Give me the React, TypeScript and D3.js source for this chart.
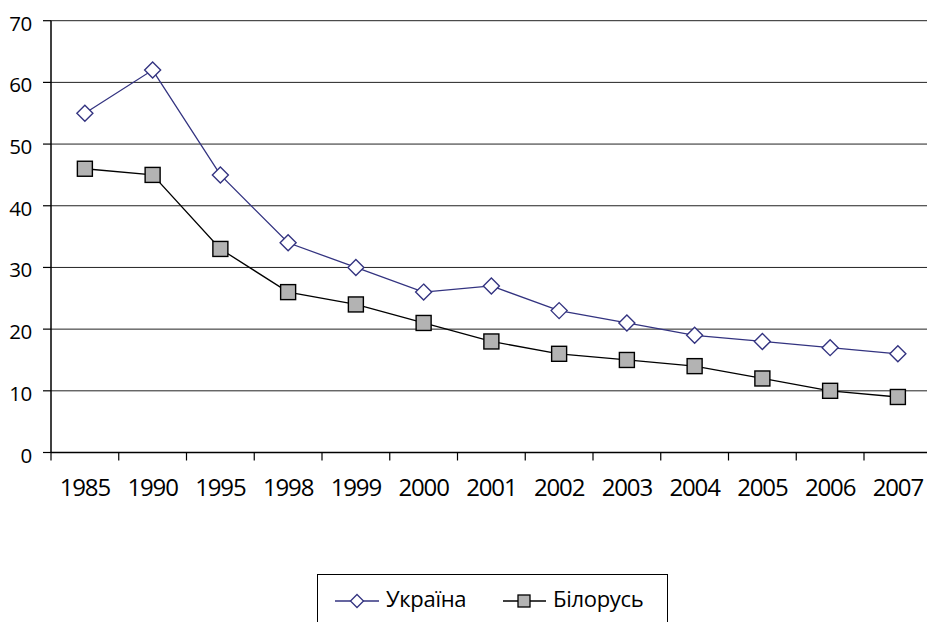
import * as d3 from "d3";

const years = ["1985", "1990", "1995", "1998", "1999", "2000", "2001", "2002", "2003", "2004", "2005", "2006", "2007"];
const ukraine = [55, 62, 45, 34, 30, 26, 27, 23, 21, 19, 18, 17, 16];
const belarus = [46, 45, 33, 26, 24, 21, 18, 16, 15, 14, 12, 10, 9];
const yTicks = [0, 10, 20, 30, 40, 50, 60, 70];
const seriesNames = ["Україна", "Білорусь"];

const W = 927;
const H = 622;
const FONT = "'Open Sans', sans-serif";

export default function App() {
  const x = d3.scaleBand<string>().domain(years).range([51, 51 + 13 * 67.75]);
  const y = d3.scaleLinear().domain([0, 70]).range([452.5, 20.7]);
  const cx = (d: string) => (x(d) ?? 0) + x.bandwidth() / 2;

  const line = d3.line<number>()
    .x((_, i) => cx(years[i]))
    .y((v) => y(v));

  const diamond = (px: number, py: number, r = 8) =>
    `M${px},${py - r}L${px + r},${py}L${px},${py + r}L${px - r},${py}Z`;

  return (
    <svg width={W} height={H} style={{ position: "absolute", left: 0, top: 0, background: "#fff" }}>
      {/* grid */}
      {yTicks.filter((t) => t > 0).map((t) => (
        <line key={t} x1={51} x2={W} y1={y(t)} y2={y(t)} stroke="#222" strokeWidth={1} />
      ))}
      {/* y axis */}
      <line x1={51} x2={51} y1={y(70)} y2={y(0)} stroke="#000" strokeWidth={1.5} />
      {yTicks.map((t) => (
        <g key={t}>
          <line x1={43} x2={51} y1={y(t)} y2={y(t)} stroke="#000" strokeWidth={1.2} />
          <text x={32} y={y(t) + 10} textAnchor="end" fontFamily={FONT} fontSize={20.5} letterSpacing={-0.3} fill="#000">
            {t}
          </text>
        </g>
      ))}
      {/* x axis */}
      <line x1={51} x2={W} y1={y(0)} y2={y(0)} stroke="#000" strokeWidth={1.5} />
      {years.map((yr) => (
        <g key={yr}>
          <line x1={x(yr)!} x2={x(yr)!} y1={y(0)} y2={y(0) + 8} stroke="#000" strokeWidth={1.2} />
          <text x={cx(yr)} y={496} textAnchor="middle" fontFamily={FONT} fontSize={24} letterSpacing={-1.1} fill="#000">
            {yr}
          </text>
        </g>
      ))}
      {/* Ukraine */}
      <path d={line(ukraine) ?? ""} fill="none" stroke="#333380" strokeWidth={1.3} />
      {ukraine.map((v, i) => (
        <path key={i} d={diamond(cx(years[i]), y(v))} fill="#fff" stroke="#333380" strokeWidth={1.4} />
      ))}
      {/* Belarus */}
      <path d={line(belarus) ?? ""} fill="none" stroke="#000" strokeWidth={1.3} />
      {belarus.map((v, i) => (
        <rect key={i} x={cx(years[i]) - 7.5} y={y(v) - 7.5} width={15} height={15} fill="#b3b3b3" stroke="#000" strokeWidth={1.4} />
      ))}
      {/* legend */}
      <rect x={317.5} y={574.5} width={350} height={60} fill="#fff" stroke="#000" strokeWidth={1} />
      <line x1={335} x2={379} y1={601} y2={601} stroke="#333380" strokeWidth={1.3} />
      <path d={diamond(357, 601, 6.5)} fill="#fff" stroke="#333380" strokeWidth={1.3} />
      <text x={386} y={607} fontFamily={FONT} fontSize={22} letterSpacing={-0.3} fill="#000">{seriesNames[0]}</text>
      <line x1={503} x2={546} y1={601} y2={601} stroke="#000" strokeWidth={1.3} />
      <rect x={518} y={595} width={12} height={12} fill="#b3b3b3" stroke="#000" strokeWidth={1.3} />
      <text x={553} y={607} fontFamily={FONT} fontSize={22} letterSpacing={-0.3} fill="#000">{seriesNames[1]}</text>
    </svg>
  );
}
